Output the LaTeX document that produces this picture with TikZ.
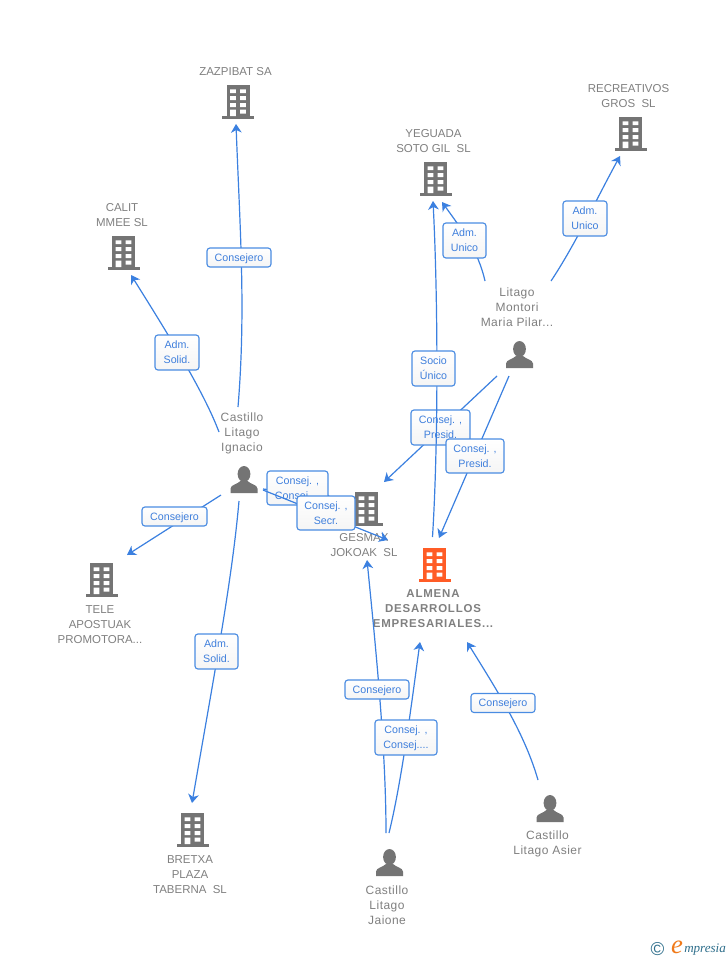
\documentclass[tikz,border=0pt]{standalone}
\usepackage{fontspec}
\setmainfont{Liberation Sans}
\newfontfamily\boldspaced[LetterSpace=7]{Liberation Sans}
\newfontfamily\personfont[LetterSpace=4]{Liberation Sans}
\newfontfamily\logofont{Liberation Serif}
\usetikzlibrary{arrows.meta}
\definecolor{linkblue}{HTML}{3B80E0}
\definecolor{boxblue}{HTML}{4A8CE2}
\definecolor{txtblue}{HTML}{3F7FDC}
\definecolor{icongray}{HTML}{747474}
\definecolor{namegray}{HTML}{808080}
\definecolor{mainorange}{HTML}{FF5C26}
\definecolor{logoteal}{HTML}{2F6F8C}
\definecolor{logoorange}{HTML}{F07A1A}
\tikzset{
  linkline/.style={draw=linkblue,line width=0.9pt,-{Stealth[length=6.5pt,width=8pt,inset=2pt]}},
  linkbox/.style={draw=boxblue,line width=0.85pt,rounded corners=2.2pt,top color=white,bottom color=white!96!black,
    text=txtblue,font=\fontsize{8}{11.25}\selectfont,align=center,inner sep=0pt,text depth=0pt},
  namelabel/.style={text=namegray,font=\fontsize{8.6}{11.25}\selectfont,align=center,inner sep=0pt},
  personlabel/.style={text=namegray,font=\personfont\fontsize{9}{11.25}\selectfont,align=center,inner sep=0pt},
  mainlabel/.style={text=namegray,font=\boldspaced\bfseries\fontsize{8.6}{11.25}\selectfont,align=center,inner sep=0pt},
  bldg/.pic={
    \fill[pic actions] (-11.5,0) rectangle (11.5,31.5);
    \fill[pic actions] (-16,31) rectangle (16,33.5);
    \fill[white] (-7.8,4.3) rectangle (-2.2,8) (2.2,4.3) rectangle (7.8,8)
      (-7.8,11) rectangle (-2.2,15) (2.2,11) rectangle (7.8,15)
      (-7.8,18) rectangle (-2.2,22) (2.2,18) rectangle (7.8,22)
      (-7.8,24.5) rectangle (-2.2,31) (2.2,24.5) rectangle (7.8,28.5);
  },
  person/.pic={
    \fill[pic actions] (0,8) ellipse (6.4 and 8);
    \fill[pic actions] (-13.5,27) -- (-13.5,22.5) .. controls (-13,18.5) and (-7,18.5) .. (-3.5,15)
      -- (3.5,15) .. controls (7,18.5) and (13,18.5) .. (13.5,22.5) -- (13.5,27) -- cycle;
  }
}
% id, start, control 1, control 2, end
\newcommand{\linkcurve}[5]{%
  \coordinate (#1s) at (#2);\coordinate (#1e) at (#5);%
  \draw[linkline] (#1s) .. controls (#3) and (#4) .. (#1e);}
\newcommand{\linkstraight}[3]{%
  \coordinate (#1s) at (#2);\coordinate (#1e) at (#3);%
  \draw[linkline] (#1s) -- (#1e);}
\newcommand{\linklabel}[5]{%
  \node[linkbox,minimum width=#3*0.75pt,minimum height=#4*0.75pt] (#1) at (#2) {#5};}
\begin{document}
\begin{tikzpicture}[x=0.75pt,y=-0.75pt]
\useasboundingbox[fill=white] (0,0) rectangle (728,960);
% icons
\pic[fill=icongray] (izaz) at (238,85) {bldg};
\pic[fill=icongray] (ical) at (123.5,236) {bldg};
\pic[fill=icongray] (iyeg) at (435.5,162) {bldg};
\pic[fill=icongray] (irec) at (630.5,117) {bldg};
\pic[fill=icongray] (iges) at (366.5,492) {bldg};
\pic[fill=mainorange] (ialm) at (434.5,548) {bldg};
\pic[fill=icongray] (itel) at (101.5,563) {bldg};
\pic[fill=icongray] (ibre) at (192.5,813) {bldg};
\pic[fill=icongray] (ipil) at (519.5,341) {person};
\pic[fill=icongray] (iign) at (244,466) {person};
\pic[fill=icongray] (ijai) at (389.5,849) {person};
\pic[fill=icongray] (iasi) at (550,795) {person};
% names
\node[namelabel] (zaz) at (235.5,72) {ZAZPIBAT SA};
\node[namelabel] (cal) at (122,215) {CALIT\\MMEE SL};
\node[namelabel] (yeg) at (433.5,141) {YEGUADA\\SOTO GIL\ \ SL};
\node[namelabel] (rec) at (628.5,96) {RECREATIVOS\\GROS\ \ SL};
\node[personlabel] (pil) at (517,307) {Litago\\Montori\\Maria Pilar...};
\node[personlabel] (ign) at (242,433.5) {Castillo\\Litago\\Ignacio};
\node[namelabel] (ges) at (364,545) {GESMAX\\JOKOAK\ \ SL};
\node[mainlabel] (alm) at (433,609) {ALMENA\\DESARROLLOS\\EMPRESARIALES...};
\node[namelabel] (tel) at (100,625) {TELE\\APOSTUAK\\PROMOTORA...};
\node[namelabel] (bre) at (190,875) {BRETXA\\PLAZA\\TABERNA\ \ SL};
\node[personlabel] (jai) at (387,905) {Castillo\\Litago\\Jaione};
\node[personlabel] (asi) at (547.5,844) {Castillo\\Litago Asier};
% connectors and their labels
\linkcurve{a}{238,407}{246,310}{240,230}{236,124}
\linklabel{la}{239,257.5}{64}{19}{Consejero}
\linkcurve{b}{219,432}{205,395}{175,345}{131,275}
\linklabel{lb}{177,352.5}{44}{35}{Adm.\\Solid.}
\linkstraight{c}{221,495}{127,555}
\linklabel{lc}{174.5,516.5}{65}{19}{Consejero}
\linkcurve{d}{239,501}{232,580}{215,670}{192,803}
\linklabel{ld}{216.5,651.5}{43}{35}{Adm.\\Solid.}
\linkstraight{e}{263,489}{331,497}
\linklabel{le}{297.5,488}{61}{34}{Consej. ,\\Consej....}
\linkstraight{f}{263,490}{388,540}
\linklabel{lf}{326,513}{58}{34}{Consej. ,\\Secr.}
\linkstraight{g}{497,376}{384,482}
\linklabel{lg}{440.5,427.5}{59}{35}{Consej. ,\\Presid.}
\linkcurve{k}{432.5,537}{438.5,440}{438,300}{433,201}
\linklabel{lk}{433.5,368.5}{43}{35}{Socio\\Único}
\linkstraight{h}{509,376}{439,538}
\linklabel{lh}{475,456}{58}{34}{Consej. ,\\Presid.}
\linkcurve{i}{485,281}{478,250}{462,230}{442,202}
\linklabel{li}{464.5,240.5}{43}{35}{Adm.\\Unico}
\linkcurve{j}{551,281}{575,245}{597,198}{620,156}
\linklabel{lj}{585,218.5}{44}{35}{Adm.\\Unico}
\linkcurve{m}{386,833}{386,750}{376,650}{367,560}
\linklabel{lm}{377,689.5}{64}{19}{Consejero}
\linkcurve{n}{389,833}{402,780}{412,700}{420,642}
\linklabel{ln}{406,737.5}{62}{35}{Consej. ,\\Consej....}
\linkcurve{o}{538,780}{525,735}{500,695}{467,642}
\linklabel{lo}{503,703}{64}{19}{Consejero}
% logo
\node[inner sep=0pt,text=logoteal,font=\fontsize{14}{14}\selectfont] (copy) at (657.5,949) {©};
\node[inner sep=0pt,text=logoorange,font=\logofont\itshape\fontsize{20}{20}\selectfont] (loge) at (677,947) {e};
\node[inner sep=0pt,anchor=west,text=logoteal,font=\logofont\itshape\fontsize{9.8}{9.8}\selectfont] (logt) at (684,950) {mpresia};
\end{tikzpicture}
\end{document}
